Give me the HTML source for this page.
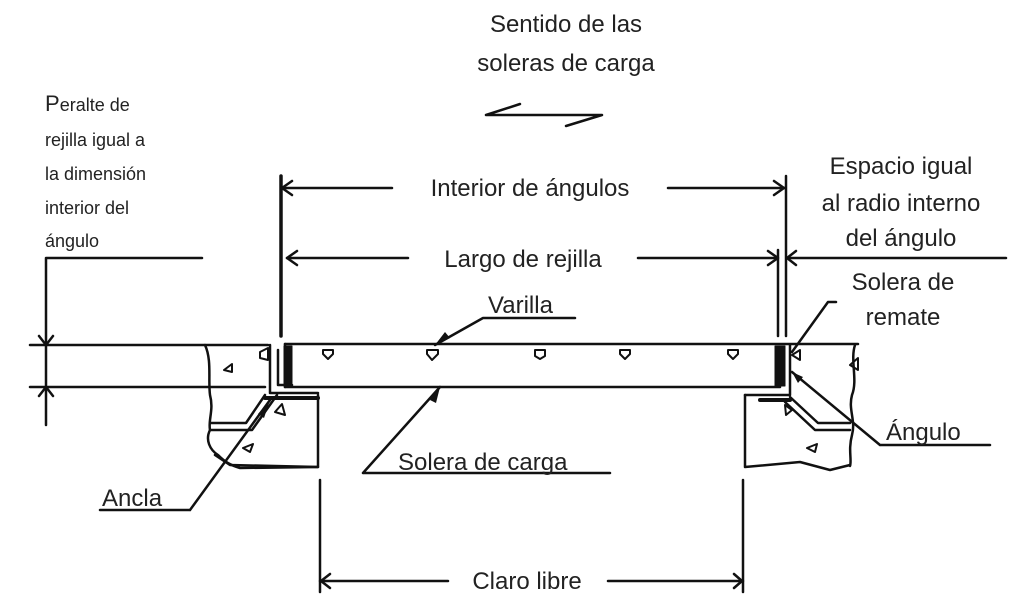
<!DOCTYPE html>
<html><head><meta charset="utf-8"><style>
html,body{margin:0;padding:0;background:#fff;}
svg{display:block;}
text{font-family:"Liberation Sans",sans-serif;fill:#222;}
</style></head><body>
<svg width="1024" height="615" viewBox="0 0 1024 615" xmlns="http://www.w3.org/2000/svg">
<g stroke="#111" stroke-width="2.5" fill="none" stroke-linecap="round" stroke-linejoin="round">
<path d="M486 115 L602 115 M486 115 L520 104 M602 115 L566 126"/>
<path d="M281 176 L281 336" stroke-width="3.5"/>
<path d="M786 176 L786 336"/>
<path d="M778 250 L778 336"/>
<path d="M281 188 L392 188 M668 188 L785 188"/>
<path d="M292 181 L282 188 L292 195 M774 181 L784 188 L774 195"/>
<path d="M287 258 L408 258 M638 258 L777 258 M787 258 L1006 258"/>
<path d="M297 251 L287 258 L297 265 M768 251 L778 258 L768 265 M796 251 L787 258 L796 265"/>
<path d="M46 258 L202 258 M46 258 L46 425"/>
<path d="M30 345 L268 345 M30 387 L265 387"/>
<path d="M39 336 L46 345 L53 336 M39 396 L46 387 L53 396"/>
<path d="M285 344 L858 344 M285 387 L780 387"/>
<path d="M285 344 L285 387"/>
<g stroke-width="2">
<path d="M323 350 L333 350 L333 354 L328 359 L323 354 Z"/>
<path d="M427 350 L438 350 L438 354 L432 360 L427 354 Z"/>
<path d="M535 350 L545 350 L545 356 L540 359 L535 356 Z"/>
<path d="M620 350 L630 350 L630 354 L625 359 L620 354 Z"/>
<path d="M728 350 L738 350 L738 354 L733 359 L728 354 Z"/>
</g>
<rect x="284" y="346" width="8" height="40" fill="#111" stroke-width="1"/>
<path d="M270 345 L270 393 L318 393 M278 350 L278 385 L292 385"/>
<path d="M265 395 L246 423 L210 423 M277 395 L252 430 L210 430"/>
<path d="M265 398 L318 398" stroke-width="4"/>
<path d="M318 395 L318 467 L230 465 L215 455"/>
<path d="M205 345 C212 360 208 380 210 395 C214 410 208 420 210 430 C205 440 210 450 218 455 C225 462 230 465 240 468 L318 467"/>
<path d="M260 352 L268 348 L268 360 L260 358 Z" stroke-width="2"/>
<path d="M224 370 L232 364 L232 372 Z M275 412 L282 404 L285 415 Z M243 448 L253 444 L250 452 Z" stroke-width="2"/>
<rect x="775" y="346" width="10" height="40" fill="#111" stroke-width="1"/>
<path d="M790 345 L790 395 L745 395"/>
<path d="M745 395 L745 467 M745 467 L800 462 L830 470 L850 465"/>
<path d="M855 345 C850 360 858 380 852 395 C848 410 856 420 852 435 C848 450 852 460 850 466"/>
<path d="M760 400 L790 400" stroke-width="4"/>
<path d="M790 397 L818 423 L850 423 M785 402 L815 430 L850 430"/>
<path d="M792 355 L800 350 L800 360 Z M850 365 L858 358 L858 370 Z M785 405 L792 410 L786 415 Z M807 448 L817 444 L815 452 Z" stroke-width="2"/>
<path d="M320 480 L320 592 M743 480 L743 592"/>
<path d="M320 581 L448 581 M608 581 L743 581"/>
<path d="M330 574 L321 581 L330 588 M734 574 L742 581 L734 588"/>
<path d="M483 318 L575 318 M483 318 L435 345"/>
<path d="M363 473 L610 473 M363 473 L440 387"/>
<path d="M100 510 L190 510 M190 510 L270 400"/>
<path d="M880 445 L990 445 M880 445 L792 372"/>
<path d="M836 302 L828 302 L792 352"/>
</g>
<path d="M435 345 L445 332 L450 338 Z M440 387 L430 400 L436 403 Z M270 400 L258 414 L264 418 Z M792 372 L803 377 L798 383 Z" fill="#111"/>
<g font-size="24">
<text x="566" y="32" text-anchor="middle">Sentido de las</text>
<text x="566" y="71" text-anchor="middle">soleras de carga</text>
<text x="530" y="196" text-anchor="middle">Interior de ángulos</text>
<text x="523" y="267" text-anchor="middle">Largo de rejilla</text>
<text x="901" y="174" text-anchor="middle">Espacio igual</text>
<text x="901" y="211" text-anchor="middle">al radio interno</text>
<text x="901" y="246" text-anchor="middle">del ángulo</text>
<text x="903" y="290" text-anchor="middle">Solera de</text>
<text x="903" y="325" text-anchor="middle">remate</text>
<text x="488" y="313">Varilla</text>
<text x="398" y="470">Solera de carga</text>
<text x="102" y="506">Ancla</text>
<text x="886" y="440">Ángulo</text>
<text x="527" y="589" text-anchor="middle">Claro libre</text>
</g>
<g font-size="18">
<text x="45" y="111"><tspan font-size="22">P</tspan>eralte de</text>
<text x="45" y="146">rejilla igual a</text>
<text x="45" y="180">la dimensión</text>
<text x="45" y="214">interior del</text>
<text x="45" y="247">ángulo</text>
</g>
</svg>
</body></html>
